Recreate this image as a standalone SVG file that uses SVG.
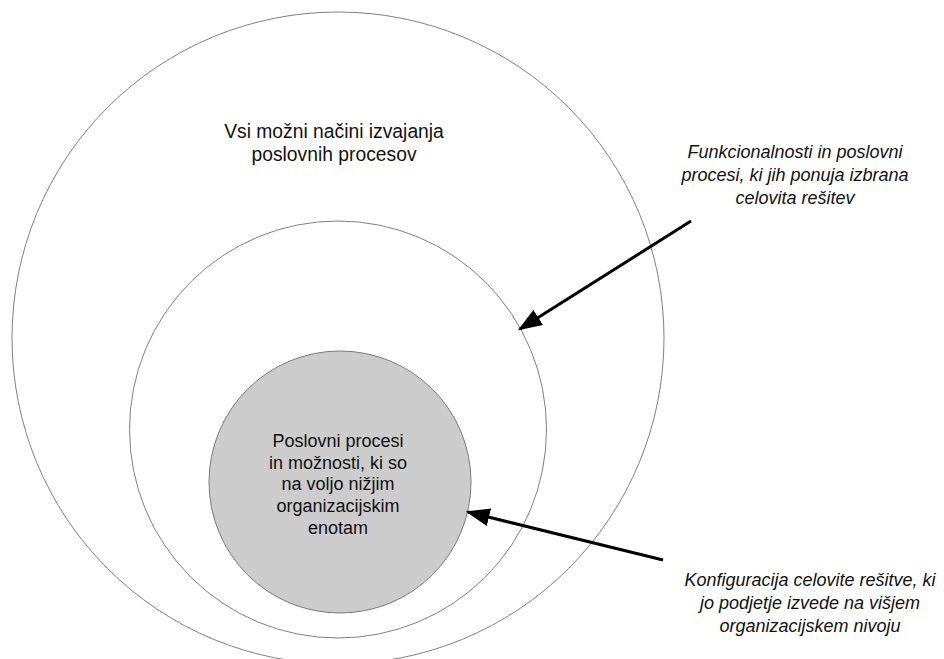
<svg xmlns="http://www.w3.org/2000/svg" width="944" height="659" viewBox="0 0 944 659">
  <style>
    .ring { fill: none; stroke: #808080; stroke-width: 1; }
    .core { fill: #cccccc; stroke: #7a7a7a; stroke-width: 1; }
    .lbl { font-family: "Liberation Sans", Arial, sans-serif; font-size: 18px; fill: #111; text-anchor: middle; }
    .big { font-size: 19.3px; }
    .note { font-style: italic; }
    .arrow { stroke: #000; stroke-width: 3; fill: none; marker-end: url(#head); }
  </style>
  <defs>
    <marker id="head" markerWidth="8" markerHeight="6" refX="7.2" refY="3" orient="auto" markerUnits="strokeWidth">
      <path d="M0,0 L8,3 L0,6 Z" fill="#000"/>
    </marker>
  </defs>
  <rect width="944" height="659" fill="#fff"/>

  <!-- outermost set: all possible ways of running business processes -->
  <g id="all-processes">
    <circle class="ring" cx="338" cy="338" r="326"/>
    <text class="lbl big" x="334" y="138">Vsi možni načini izvajanja</text>
    <text class="lbl big" x="334" y="161">poslovnih procesov</text>
  </g>

  <!-- middle set: what the chosen ERP solution offers -->
  <g id="erp-offer">
    <circle class="ring" cx="338" cy="429.5" r="208.5"/>
  </g>

  <!-- inner set: options left to lower units -->
  <g id="lower-units">
    <circle class="core" cx="340" cy="482" r="131"/>
    <text class="lbl" x="338" y="447">Poslovni procesi</text>
    <text class="lbl" x="338" y="468.7">in možnosti, ki so</text>
    <text class="lbl" x="338" y="490.4">na voljo nižjim</text>
    <text class="lbl" x="338" y="512.1">organizacijskim</text>
    <text class="lbl" x="338" y="533.8">enotam</text>
  </g>

  <g id="note-erp">
    <text class="lbl note" x="795" y="158">Funkcionalnosti in poslovni</text>
    <text class="lbl note" x="795" y="181">procesi, ki jih ponuja izbrana</text>
    <text class="lbl note" x="795" y="204">celovita rešitev</text>
  </g>

  <g id="note-config">
    <text class="lbl note" x="810" y="586">Konfiguracija celovite rešitve, ki</text>
    <text class="lbl note" x="810" y="609">jo podjetje izvede na višjem</text>
    <text class="lbl note" x="810" y="632">organizacijskem nivoju</text>
  </g>

  <g id="connectors">
    <line class="arrow" x1="691" y1="221" x2="520" y2="329"/>
    <line class="arrow" x1="663" y1="560" x2="468" y2="512"/>
  </g>
</svg>
